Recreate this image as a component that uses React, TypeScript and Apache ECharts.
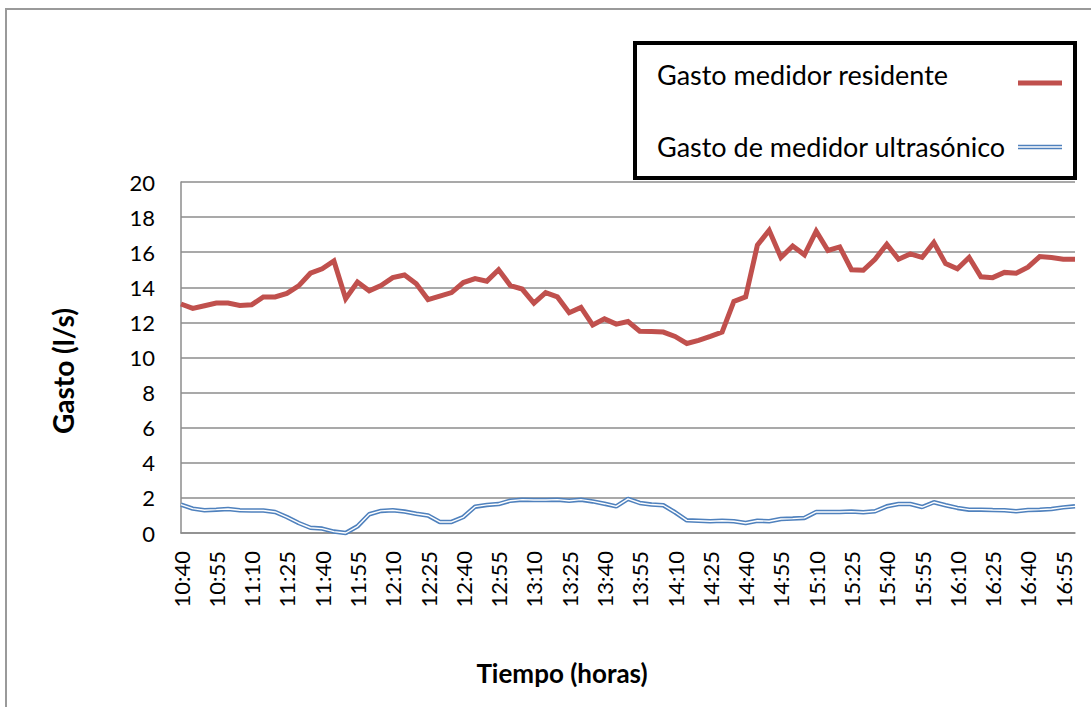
import React, { useEffect, useRef } from "react";
import * as echarts from "echarts";

const times = [
  "10:40","10:45","10:50","10:55",
  "11:00","11:05","11:10","11:15","11:20","11:25","11:30","11:35","11:40","11:45","11:50","11:55",
  "12:00","12:05","12:10","12:15","12:20","12:25","12:30","12:35","12:40","12:45","12:50","12:55",
  "13:00","13:05","13:10","13:15","13:20","13:25","13:30","13:35","13:40","13:45","13:50","13:55",
  "14:00","14:05","14:10","14:15","14:20","14:25","14:30","14:35","14:40","14:45","14:50","14:55",
  "15:00","15:05","15:10","15:15","15:20","15:25","15:30","15:35","15:40","15:45","15:50","15:55",
  "16:00","16:05","16:10","16:15","16:20","16:25","16:30","16:35","16:40","16:45","16:50","16:55",
  "17:00",
];

const residente = [
  13.05, 12.8, 12.95, 13.1, 13.1, 12.97, 13.0, 13.45, 13.45, 13.65,
  14.08, 14.8, 15.05, 15.5, 13.35, 14.3, 13.8, 14.1, 14.55, 14.7,
  14.2, 13.3, 13.5, 13.7, 14.27, 14.5, 14.35, 15.0, 14.1, 13.9,
  13.1, 13.7, 13.45, 12.55, 12.85, 11.85, 12.2, 11.9, 12.05, 11.5,
  11.48, 11.45, 11.2, 10.8, 10.98, 11.2, 11.45, 13.2, 13.45, 16.4,
  17.25, 15.7, 16.35, 15.85, 17.2, 16.1, 16.3, 15.0, 14.97, 15.6,
  16.45, 15.6, 15.9, 15.7, 16.55, 15.35, 15.05, 15.7, 14.6, 14.55,
  14.85, 14.8, 15.15, 15.75, 15.7, 15.6, 15.6,
];

const ultrasonico = [
  1.62, 1.39, 1.3, 1.33, 1.37, 1.3, 1.28, 1.28, 1.2, 0.91,
  0.57, 0.3, 0.25, 0.08, 0.0, 0.38, 1.07, 1.26, 1.3, 1.22,
  1.1, 1.0, 0.63, 0.63, 0.91, 1.5, 1.6, 1.65, 1.84, 1.9,
  1.88, 1.88, 1.9, 1.84, 1.9, 1.8, 1.67, 1.52, 1.94, 1.71,
  1.62, 1.58, 1.18, 0.72, 0.7, 0.67, 0.7, 0.67, 0.57, 0.7,
  0.67, 0.8, 0.82, 0.86, 1.2, 1.2, 1.2, 1.22, 1.18, 1.24,
  1.52, 1.65, 1.65, 1.48, 1.75, 1.58, 1.43, 1.33, 1.33, 1.31,
  1.3, 1.24, 1.31, 1.33, 1.37, 1.46, 1.52,
];

const yTicks = { min: 0, max: 20, interval: 2 };
const seriesNames = ["Gasto medidor residente", "Gasto de medidor ultrasónico"];
const xTitle = "Tiempo (horas)";
const yTitle = "Gasto (l/s)";

const RED = "#C0504D";
const BLUE = "#4F81BD";
const GRID = "#8c8c8c";
const FONT = "Lato";

export default function App() {
  const ref = useRef<HTMLDivElement>(null);

  useEffect(() => {
    if (!ref.current) return;
    const chart = echarts.init(ref.current, null, { renderer: "svg" });
    chart.setOption({
      animation: false,
      backgroundColor: "#ffffff",
      textStyle: { fontFamily: FONT },
      grid: { left: 181, right: 16, top: 182, bottom: 174, containLabel: false },
      xAxis: {
        type: "category",
        data: times,
        boundaryGap: false,
        axisLine: { show: true, lineStyle: { color: GRID, width: 1.5 } },
        axisTick: { show: false },
        axisLabel: {
          interval: 2,
          rotate: 90,
          margin: 18,
          fontSize: 22,
          color: "#000",
          fontFamily: FONT,
        },
        splitLine: { show: false },
      },
      yAxis: {
        type: "value",
        min: yTicks.min,
        max: yTicks.max,
        interval: yTicks.interval,
        axisLine: { show: true, lineStyle: { color: GRID, width: 1.5 } },
        axisTick: { show: false },
        axisLabel: { fontSize: 22, color: "#000", margin: 26, fontFamily: FONT },
        splitLine: { show: true, lineStyle: { color: GRID, width: 1.5 } },
      },
      series: [
        {
          name: seriesNames[0],
          type: "line",
          data: residente,
          symbol: "none",
          lineStyle: { color: RED, width: 5, join: "miter" },
          z: 3,
        },
        {
          name: seriesNames[1],
          type: "line",
          data: ultrasonico,
          symbol: "none",
          clip: false,
          lineStyle: { color: BLUE, width: 4.5 },
          z: 4,
        },
        {
          name: seriesNames[1] + " (inner)",
          type: "line",
          data: ultrasonico,
          symbol: "none",
          clip: false,
          lineStyle: { color: "#ffffff", width: 1.4 },
          z: 5,
          silent: true,
        },
      ],
      graphic: [
        {
          type: "rect",
          shape: { x: 6, y: 9, width: 1200, height: 800 },
          style: { fill: "none", stroke: "#9a9a9a", lineWidth: 2 },
          silent: true,
          z: 0,
        },
        {
          type: "text",
          x: 63,
          y: 371,
          rotation: Math.PI / 2,
          style: {
            text: yTitle,
            fontSize: 28,
            fontWeight: "bold",
            fontFamily: FONT,
            fill: "#000",
            align: "center",
            verticalAlign: "middle",
          },
          z: 11,
        },
        {
          type: "text",
          x: 562,
          y: 673,
          style: {
            text: xTitle,
            fontSize: 26,
            fontWeight: "bold",
            fontFamily: FONT,
            fill: "#000",
            align: "center",
            verticalAlign: "middle",
          },
          z: 11,
        },
        {
          type: "rect",
          shape: { x: 635, y: 43, width: 440, height: 135 },
          style: { fill: "#ffffff", stroke: "#000000", lineWidth: 4 },
          z: 10,
        },
        {
          type: "text",
          x: 657,
          y: 74,
          style: {
            text: seriesNames[0],
            fontSize: 27,
            fontFamily: FONT,
            fill: "#000",
            verticalAlign: "middle",
          },
          z: 11,
        },
        {
          type: "text",
          x: 657,
          y: 146,
          style: {
            text: seriesNames[1],
            fontSize: 27,
            fontFamily: FONT,
            fill: "#000",
            verticalAlign: "middle",
          },
          z: 11,
        },
        {
          type: "line",
          shape: { x1: 1018, y1: 83, x2: 1062, y2: 83 },
          style: { stroke: RED, lineWidth: 5 },
          z: 11,
        },
        {
          type: "line",
          shape: { x1: 1018, y1: 147, x2: 1062, y2: 147 },
          style: { stroke: BLUE, lineWidth: 4.5 },
          z: 11,
        },
        {
          type: "line",
          shape: { x1: 1018, y1: 147, x2: 1062, y2: 147 },
          style: { stroke: "#ffffff", lineWidth: 1.4 },
          z: 12,
        },
      ],
    });
    return () => chart.dispose();
  }, []);

  return (
    <div
      ref={ref}
      style={{ position: "fixed", left: 0, top: 0, width: 1091, height: 707, background: "#fff" }}
    />
  );
}
